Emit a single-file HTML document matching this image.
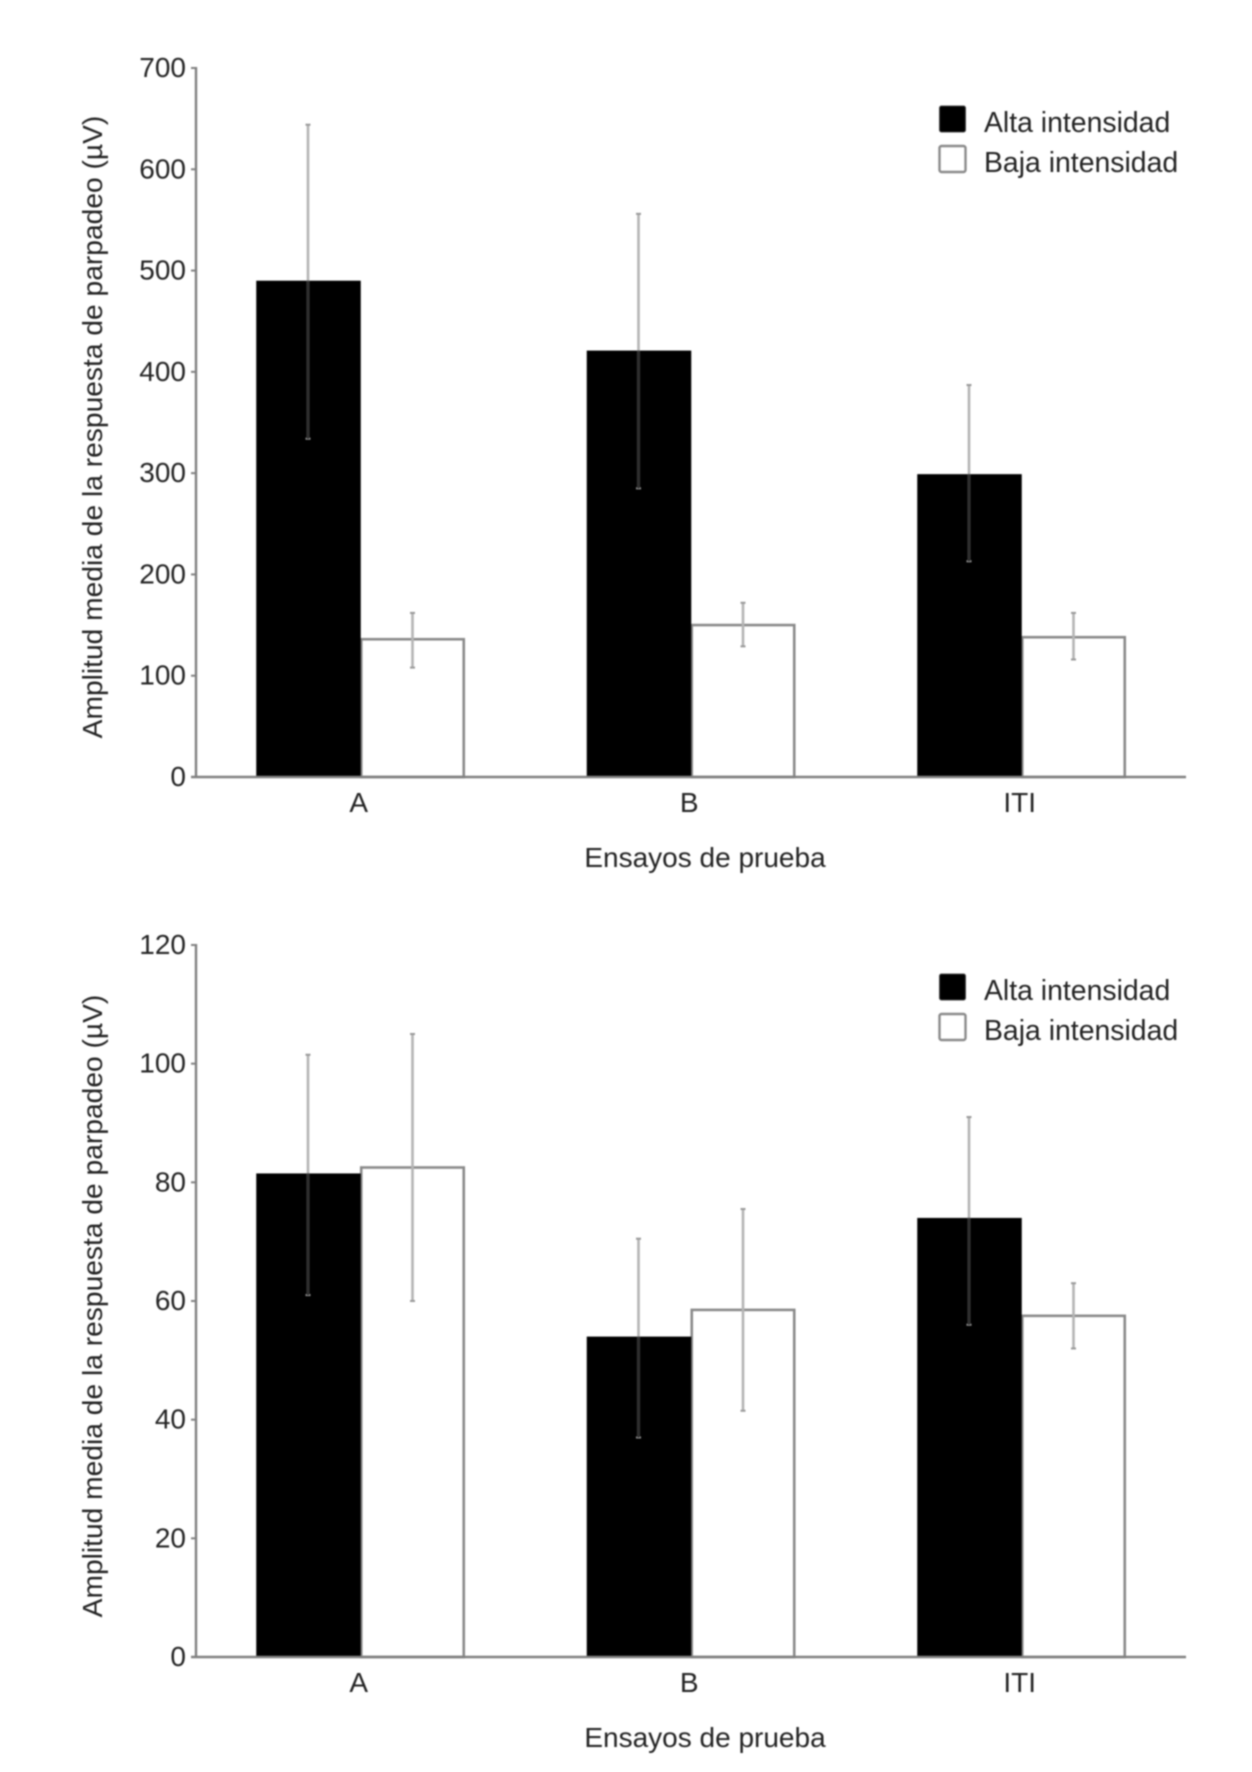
<!DOCTYPE html>
<html lang="es">
<head>
<meta charset="utf-8">
<title>Amplitud media de la respuesta de parpadeo</title>
<style>
  html, body { margin: 0; padding: 0; background: #fff; }
  svg { display: block; filter: blur(0.75px); }
  text { font-family: "Liberation Sans", sans-serif; fill: #242424; }
</style>
</head>
<body>
<svg id="figure" xmlns="http://www.w3.org/2000/svg" width="1252" height="1772" viewBox="0 0 1252 1772"></svg>
<script>
// ---------- data ----------
const categories = ['A', 'B', 'ITI'];
const seriesNames = ['Alta intensidad', 'Baja intensidad'];

const chart1Ticks = [0, 100, 200, 300, 400, 500, 600, 700];
const chart1High = [490, 421, 299];
const chart1HighUpper = [644, 556, 387];
const chart1HighLower = [334, 285, 213];
const chart1Low = [136, 150, 138];
const chart1LowUpper = [162, 172, 162];
const chart1LowLower = [108, 129, 116];

const chart2Ticks = [0, 20, 40, 60, 80, 100, 120];
const chart2High = [81.5, 54, 74];
const chart2HighUpper = [101.5, 70.5, 91];
const chart2HighLower = [61, 37, 56];
const chart2Low = [82.5, 58.5, 57.5];
const chart2LowUpper = [105, 75.5, 63];
const chart2LowLower = [60, 41.5, 52];

const yAxisTitle = 'Amplitud media de la respuesta de parpadeo (\u00b5V)';
const xAxisTitle = 'Ensayos de prueba';

// ---------- drawing ----------
const NS = 'http://www.w3.org/2000/svg';
const root = document.getElementById('figure');

function make(parent, tag, attrs, text) {
  const el = document.createElementNS(NS, tag);
  for (const k in attrs) el.setAttribute(k, attrs[k]);
  if (text !== undefined) el.textContent = text;
  parent.appendChild(el);
  return el;
}

const AXIS = '#808080';
const WHISKER = '#b4b4b4';
const WHISKER_IN_BAR = '#2b2b2b';
const BAR_W = 104.5;
const LOW_W = 102.5;
const FONT = 28;

function drawErrorBar(g, cx, upper, lower, y, barValue, filled, label) {
  const whisker = make(g, 'line', { x1: cx, x2: cx, y1: y(upper), y2: y(lower), stroke: WHISKER, 'stroke-width': 2.6 });
  
  
  for (const v of [upper, lower]) {
    const cap = make(g, 'line', { x1: cx - 2.5, x2: cx + 2.5, y1: y(v), y2: y(v), stroke: '#999', 'stroke-width': 2 });
    
    
  }
  if (filled) {
    const inner = make(g, 'line', { x1: cx, x2: cx, y1: y(Math.min(upper, barValue)), y2: y(Math.max(lower, 0)), stroke: WHISKER_IN_BAR, 'stroke-width': 2.6 });
    
    
  }
}

function drawChart(name, cfg, ticks, high, highUp, highLo, low, lowUp, lowLo) {
  const g = make(root, 'g', {});
  
  

  const maxTick = ticks[ticks.length - 1];
  const y = v => cfg.y0 + (cfg.yTop - cfg.y0) * (v / maxTick);
  const xCenter = i => cfg.xLeft + (cfg.bandRight - cfg.xLeft) * (i + 0.5) / categories.length;

  // bars
  categories.forEach((cat, i) => {
    const c = xCenter(i);
    const low1 = make(g, 'rect', { x: c, y: y(low[i]), width: LOW_W, height: y(0) - y(low[i]), fill: '#fff', stroke: '#8a8a8a', 'stroke-width': 2.6 });
    
    
    const high1 = make(g, 'rect', { x: c - BAR_W - 0.5, y: y(high[i]), width: BAR_W, height: y(0) - y(high[i]), fill: '#000' });
    
    
    drawErrorBar(g, c - BAR_W / 2 - 1, highUp[i], highLo[i], y, high[i], true, 'alta-' + cat.toLowerCase());
    drawErrorBar(g, c + BAR_W / 2 - 1, lowUp[i], lowLo[i], y, low[i], false, 'baja-' + cat.toLowerCase());
  });

  // axes
  const yAxis = make(g, 'line', { x1: cfg.xLeft, x2: cfg.xLeft, y1: y(maxTick) - 1, y2: y(0) + 1, stroke: AXIS, 'stroke-width': 2.4 });
  
  
  const xAxis = make(g, 'line', { x1: cfg.xLeft - 5, x2: cfg.xRight, y1: y(0), y2: y(0), stroke: AXIS, 'stroke-width': 2.4 });
  
  

  ticks.forEach(t => {
    const tick = make(g, 'line', { x1: cfg.xLeft - 5, x2: cfg.xLeft, y1: y(t), y2: y(t), stroke: AXIS, 'stroke-width': 2 });
    
    
    const lab = make(g, 'text', { x: cfg.xLeft - 10, y: y(t) + 9, 'text-anchor': 'end', 'font-size': FONT }, String(t));
    
    
  });

  categories.forEach((cat, i) => {
    const lab = make(g, 'text', { x: xCenter(i) - 2.5, y: cfg.catBase, 'text-anchor': 'middle', 'font-size': FONT }, cat);
    
    
  });

  const xt = make(g, 'text', { x: 705, y: cfg.xTitleBase, 'text-anchor': 'middle', 'font-size': FONT }, xAxisTitle);
  
  

  const yt = make(g, 'text', { transform: 'translate(102 ' + cfg.yTitleMid + ') rotate(-90)', 'text-anchor': 'middle', 'font-size': 28.2 }, yAxisTitle);
  
  

  // legend
  const leg = make(g, 'g', {});
  
  
  seriesNames.forEach((s, i) => {
    const top = cfg.legendTop + i * 40;
    const swatch = make(leg, 'rect', { x: 939.5, y: top, width: 26, height: 26, rx: 2, fill: i === 0 ? '#000' : '#fff', stroke: i === 0 ? '#444' : '#8a8a8a', 'stroke-width': i === 0 ? 1 : 2.4 });
    
    
    const t = make(leg, 'text', { x: 984, y: top + 26, 'font-size': 28.4 }, s);
    
    
  });
}

drawChart('chart-top',
  { xLeft: 196, xRight: 1186, bandRight: 1187.5, yTop: 68, y0: 777, catBase: 812, xTitleBase: 867, yTitleMid: 427, legendTop: 106 },
  chart1Ticks, chart1High, chart1HighUpper, chart1HighLower, chart1Low, chart1LowUpper, chart1LowLower);

drawChart('chart-bottom',
  { xLeft: 196, xRight: 1186, bandRight: 1187.5, yTop: 945, y0: 1657, catBase: 1692, xTitleBase: 1747, yTitleMid: 1306, legendTop: 974 },
  chart2Ticks, chart2High, chart2HighUpper, chart2HighLower, chart2Low, chart2LowUpper, chart2LowLower);
</script>
</body>
</html>
